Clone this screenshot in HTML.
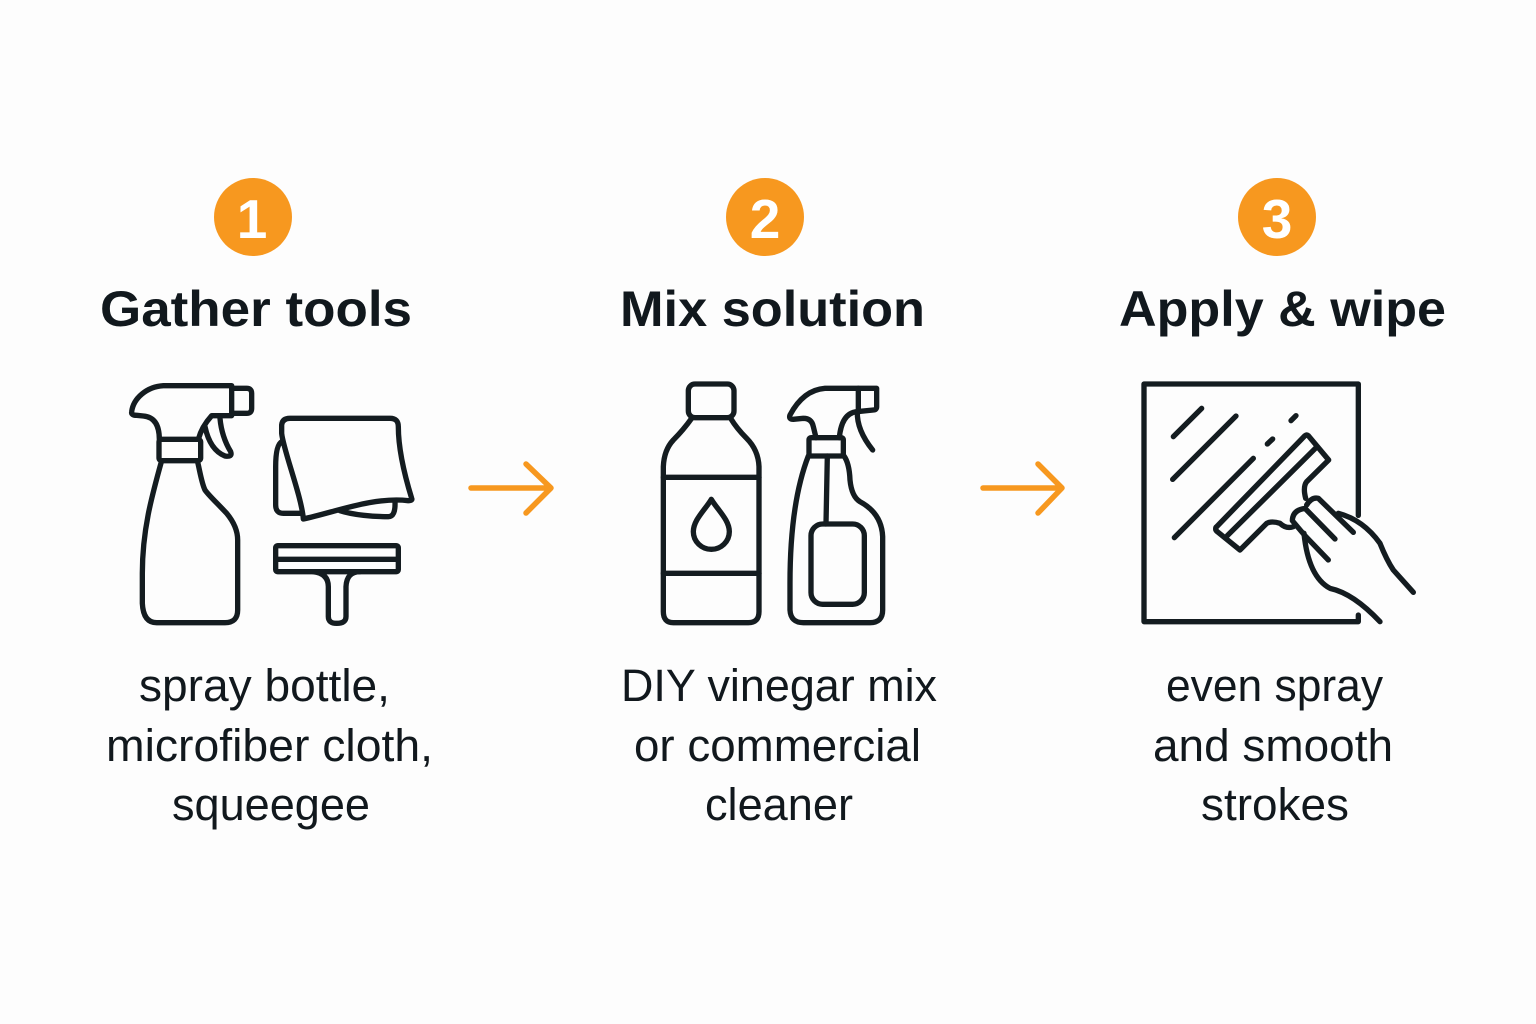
<!DOCTYPE html>
<html><head><meta charset="utf-8"><style>
html,body{margin:0;padding:0;background:#fdfdfd}
svg{display:block}
text{font-family:"Liberation Sans",sans-serif;fill:#11181d}
.h{font-size:50px;font-weight:bold}
.d{font-size:45px}
.n{font-size:55px;font-weight:bold;fill:#fff;text-anchor:middle}
.i{fill:none;stroke:#141c20;stroke-width:16;stroke-linecap:round;stroke-linejoin:round}
.a{fill:none;stroke:#f7981f;stroke-width:5.5;stroke-linecap:round;stroke-linejoin:round}
</style></head><body>
<svg width="1536" height="1024" viewBox="0 0 1536 1024" xmlns="http://www.w3.org/2000/svg">
<rect width="1536" height="1024" fill="#fdfdfd"/>
<circle cx="253" cy="217" r="39" fill="#f7981f"/>
<circle cx="765" cy="217" r="39" fill="#f7981f"/>
<circle cx="1277" cy="217" r="39" fill="#f7981f"/>
<text class="n" x="252" y="238">1</text>
<text class="n" x="765" y="238">2</text>
<text class="n" x="1277" y="238">3</text>

<text class="h" x="100" y="326" textLength="312" lengthAdjust="spacingAndGlyphs">Gather tools</text>
<text class="h" x="620" y="326" textLength="305" lengthAdjust="spacingAndGlyphs">Mix solution</text>
<text class="h" x="1119" y="326" textLength="327" lengthAdjust="spacingAndGlyphs">Apply &amp; wipe</text>

<text class="d" x="139" y="701" textLength="251" lengthAdjust="spacingAndGlyphs">spray bottle,</text>
<text class="d" x="106" y="761" textLength="327" lengthAdjust="spacingAndGlyphs">microfiber cloth,</text>
<text class="d" x="172" y="820" textLength="198" lengthAdjust="spacingAndGlyphs">squeegee</text>
<text class="d" x="621" y="701" textLength="316" lengthAdjust="spacingAndGlyphs">DIY vinegar mix</text>
<text class="d" x="634" y="761" textLength="287" lengthAdjust="spacingAndGlyphs">or commercial</text>
<text class="d" x="705" y="820" textLength="148" lengthAdjust="spacingAndGlyphs">cleaner</text>
<text class="d" x="1166" y="701" textLength="217" lengthAdjust="spacingAndGlyphs">even spray</text>
<text class="d" x="1153" y="761" textLength="240" lengthAdjust="spacingAndGlyphs">and smooth</text>
<text class="d" x="1201" y="820" textLength="148" lengthAdjust="spacingAndGlyphs">strokes</text>

<path class="a" d="M471 488H550M526 464L551 488L526 513"/>
<path class="a" d="M983 488H1061M1038 464L1062 488L1038 513"/>

<g class="i" transform="translate(110,370) scale(.33333)">
<path d="M365 47L160 47C110 50 70 85 65 125Q63 136 80 136L100 138Q148 142 148 208M265 208Q275 170 305 137L365 137L365 47"/>
<path d="M365 55L410 55Q425 55 425 70L425 115Q425 130 410 130L365 130"/>
<rect x="147" y="208" width="125" height="64" rx="8"/>
<path d="M155 272C125 380 97 480 97 610L97 700Q100 758 140 758L345 758Q383 758 383 720L383 510Q383 470 350 430C320 398 295 375 285 360C275 340 270 305 262 272"/>
<path d="M285 170Q300 240 345 258Q368 262 362 245Q335 200 330 145"/>
<path d="M580 447C575 380 520 240 515 190L515 165Q517 145 540 145L840 145Q865 145 865 170C865 240 885 320 905 385Q908 392 895 392C790 380 680 425 580 447Z"/>
<path d="M515 215Q497 225 497 290L497 405Q497 430 520 430L575 430"/>
<path d="M690 422C730 435 790 440 835 440Q857 440 855 395"/>
<rect x="497" y="527" width="368" height="78" rx="6"/>
<path d="M497 568H865"/>
<path d="M610 605Q655 610 655 650L655 740Q655 760 680 760Q708 760 708 740L708 650Q710 605 750 605"/>
</g>

<g class="i" transform="translate(640,370) scale(.33333)">
<rect x="145" y="42" width="137" height="101" rx="20"/>
<path d="M155 145Q130 180 100 210Q72 240 70 290L70 725Q70 758 100 758L325 758Q357 758 357 725L357 290Q355 240 320 205Q290 175 272 145"/>
<path d="M70 322H357M70 610H357"/>
<path d="M214 388C195 420 160 450 160 485C160 515 185 538 214 538C243 538 268 515 268 485C268 450 233 420 214 388Z"/>
<path d="M710 55L555 55Q490 60 450 135Q445 148 460 148L490 145Q515 145 520 170L528 203M598 203Q605 130 650 125L700 120Q710 120 710 110L710 55"/>
<path d="M655 55V125M652 125Q650 180 698 240"/>
<rect x="507" y="203" width="103" height="55" rx="6"/>
<path d="M505 258Q450 400 450 640L450 720Q452 758 490 758L690 758Q728 758 728 720L728 500Q725 430 660 395Q635 380 630 330Q628 280 612 258"/>
<path d="M562 258L558 462"/>
<rect x="513" y="462" width="160" height="241" rx="35"/>
</g>

<g class="i" transform="translate(1130,370) scale(.33333)">
<path d="M685 436L685 42L42 42L42 755L685 755L685 735"/>
<path d="M130 200L215 115M128 328L318 138M133 503L370 265M412 222L428 207M483 152L498 137"/>
<path d="M258 472L525 197Q530 193 535 197L596 270L530 335Q518 350 527 385"/>
<path d="M258 472Q255 480 262 485L330 540L410 460Q425 452 450 460Q470 478 490 470"/>
<path d="M292 497L556 235"/>
<path d="M487 452Q488 420 525 415L615 507M487 452L525 497L595 570"/>
<path d="M530 405Q545 380 565 385L670 487"/>
<path d="M625 430Q700 450 750 520Q770 570 790 600L850 667"/>
<path d="M522 490Q535 620 600 655Q670 670 750 755"/>
</g>
</svg>
</body></html>
